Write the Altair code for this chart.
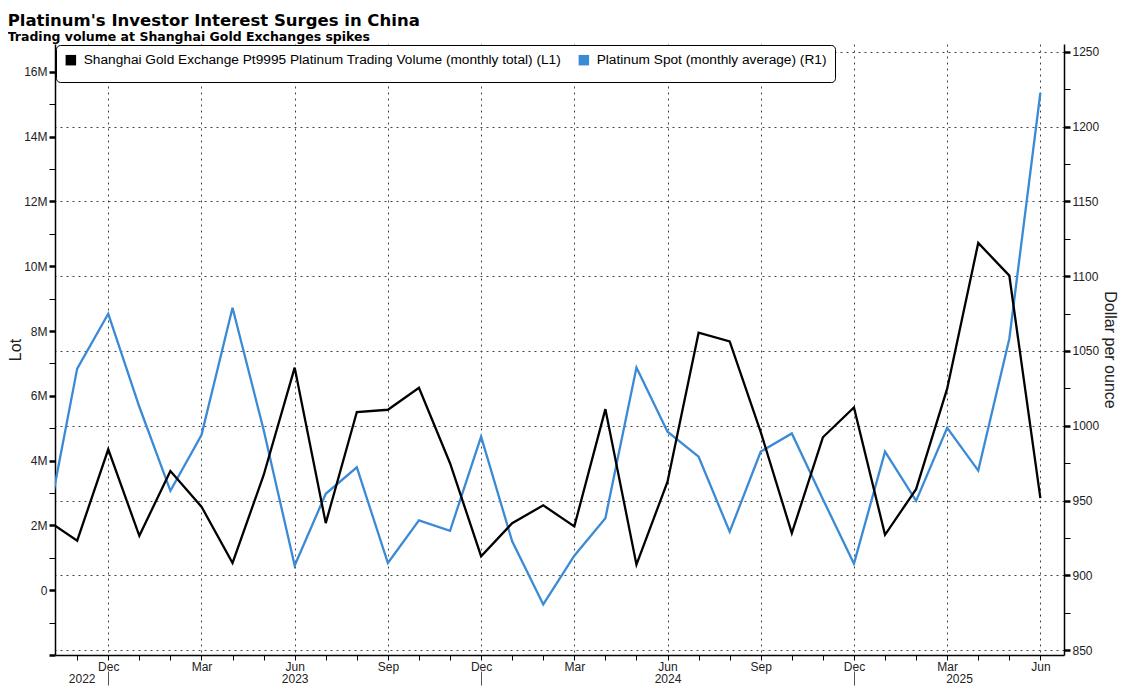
import json
import altair as alt
import pandas as pd

# ---------------- data ----------------
months = [str(p) for p in pd.period_range("2022-10", "2025-06", freq="M")]
volume_m = [2.18, 1.53, 4.35, 1.68, 3.68, 2.58, 0.84, 3.55, 6.87, 2.07, 5.50, 5.57,
            6.25, 3.92, 1.05, 2.07, 2.62, 1.97, 5.59, 0.79, 3.35, 7.95, 7.68, 4.88,
            1.76, 4.72, 5.64, 1.71, 3.12, 6.22, 10.72, 9.71, 2.84]
spot = [930.0, 1038.2, 1074.9, 1012.7, 956.5, 993.8, 1078.9, 997.3, 906.5, 954.5, 972.2, 908.2,
        936.7, 929.8, 992.7, 922.7, 880.5, 913.1, 938.2, 1038.9, 996.0, 979.3, 929.1, 982.7,
        994.9, 950.9, 907.8, 982.7, 949.8, 998.7, 970.0, 1058.2, 1222.7]
series_names = ["Shanghai Gold Exchange Pt9995 Platinum Trading Volume (monthly total) (L1)",
                "Platinum Spot (monthly average) (R1)"]
series_colors = ["#000000", "#3a8ad6"]
years = ["2022", "2023", "2024", "2025"]
left_ticks_m = list(range(-2, 17))
right_ticks = list(range(850, 1251, 25))

df = pd.DataFrame({
    "i": list(range(len(months))),
    "month": months,
    "volume": [v * 1_000_000 for v in volume_m],
    "spot": spot,
    "s_vol": series_names[0],
    "s_spot": series_names[1],
})

x_domain = [0.286, 32.76]
W, H = 1009, 611
FONT = "Liberation Sans"

# month tick labels (every third month, Dec/Mar/Jun/Sep)
month_labels = [pd.Period(m).strftime("%b") if i % 3 == 2 else "" for i, m in enumerate(months)]
month_expr = f"{json.dumps(month_labels)}[datum.value] || ''"

# year separators (at Dec) and year label centres
dec_idx = [i for i, m in enumerate(months) if m.endswith("-12")]
bounds = [x_domain[0]] + dec_idx + [x_domain[1]]
year_pos = [(bounds[k] + bounds[k + 1]) / 2 for k in range(len(years))]
year_expr = f"'{years[-1]}'"
for k in range(len(years) - 2, -1, -1):
    year_expr = f"datum.value < {bounds[k + 1]} ? '{years[k]}' : ({year_expr})"

xscale = alt.Scale(domain=x_domain, nice=False, zero=False)
color_scale = alt.Scale(domain=series_names, range=series_colors)

legend = alt.Legend(
    title=None, orient="none", legendX=1, legendY=1, direction="horizontal",
    symbolType="square", symbolSize=25, symbolStrokeWidth=5.5,
    labelFont=FONT, labelFontSize=13.7, labelColor="#000", labelLimit=700,
    labelOffset=6, columnPadding=8, padding=8,
    strokeColor="#000", fillColor="#fff", cornerRadius=4,
)

month_axis = alt.Axis(
    orient="bottom", values=list(range(1, 33)), labelExpr=month_expr, title=None,
    grid=True, gridColor="#444", gridDash=[2, 4], gridWidth=1,
    gridOpacity={"condition": {"test": "datum.value % 3 == 2", "value": 1}, "value": 0},
    tickSize=5, tickColor="#000", domainColor="#000", domainWidth=1.5,
    labelFont=FONT, labelFontSize=12, labelColor="#222", labelPadding=1,
    labelAngle=0, labelFlush=False, labelOverlap=False,
)
year_axis = alt.Axis(
    orient="bottom", values=year_pos, labelExpr=year_expr, title=None, grid=False,
    ticks=False, tickSize=0, domain=False, offset=18, labelPadding=0,
    labelFont=FONT, labelFontSize=12, labelColor="#222",
    labelAngle=0, labelFlush=False, labelOverlap=False,
)
sep_axis = alt.Axis(
    orient="bottom", values=dec_idx, labels=False, title=None, grid=False, domain=False,
    ticks=True, tickSize=14, tickColor="#555", tickWidth=1, offset=16,
)

left_axis = alt.Axis(
    orient="left", values=[v * 1_000_000 for v in left_ticks_m],
    labelExpr="(datum.value < 0 || datum.value % 2000000 != 0) ? '' : (datum.value == 0 ? '0' : (datum.value / 1000000) + 'M')",
    title="Lot", titleFont=FONT, titleFontSize=16, titleFontWeight="normal", titleColor="#222",
    titlePadding=0, grid=False, tickSize=6, tickColor="#000",
    tickWidth={"condition": {"test": "datum.value % 2000000 == 0", "value": 2.5}, "value": 1},
    domainColor="#000", domainWidth=1.5,
    labelFont=FONT, labelFontSize=12, labelColor="#222", labelPadding=2,
)
right_axis = alt.Axis(
    orient="right", values=right_ticks,
    labelExpr="datum.value % 50 == 0 ? datum.value + '' : ''",
    title="Dollar per ounce", titleFont=FONT, titleFontSize=16, titleFontWeight="normal",
    titleColor="#222", titlePadding=3,
    grid=True, gridColor="#444", gridDash=[2, 4], gridWidth=1,
    gridOpacity={"condition": {"test": "datum.value % 50 == 0", "value": 1}, "value": 0},
    tickSize=6, tickColor="#000",
    tickWidth={"condition": {"test": "datum.value % 50 == 0", "value": 2.5}, "value": 1},
    domainColor="#000", domainWidth=1.5,
    labelFont=FONT, labelFontSize=12, labelColor="#222", labelPadding=2,
)

base = alt.Chart(df)

blue = base.mark_line(strokeWidth=2.3, clip=True).encode(
    x=alt.X("i:Q", scale=xscale, axis=year_axis),
    y=alt.Y("spot:Q", scale=alt.Scale(domain=[846.7, 1255.3], nice=False, zero=False), axis=right_axis),
    color=alt.Color("s_spot:N", scale=color_scale, legend=legend),
)
black = base.mark_line(strokeWidth=2.3, clip=True).encode(
    x=alt.X("i:Q", scale=xscale, axis=month_axis),
    y=alt.Y("volume:Q", scale=alt.Scale(domain=[-2_000_000, 16_860_000], nice=False, zero=False), axis=left_axis),
    color=alt.Color("s_vol:N", scale=color_scale, legend=legend),
)
seps = base.mark_point(opacity=0, clip=True).encode(
    x=alt.X("i:Q", scale=xscale, axis=sep_axis),
)

chart = (
    alt.layer(blue, black, seps)
    .resolve_scale(y="independent")
    .resolve_axis(x="independent", y="independent")
    .properties(
        width=W, height=H,
        autosize=alt.AutoSizeParams(type="none"),
        padding={"left": 47, "top": 36, "right": 54, "bottom": 32},
        background="#ffffff",
        title=alt.TitleParams(
            text="Platinum's Investor Interest Surges in China",
            subtitle="Trading volume at Shanghai Gold Exchanges spikes",
            anchor="start", frame="bounds", orient="top",
            font="DejaVu Sans", fontSize=16.5, fontWeight="bold", color="#000",
            subtitleFont="DejaVu Sans", subtitleFontSize=12.5, subtitleFontWeight="bold",
            subtitleColor="#000", subtitlePadding=1, offset=1,
        ),
    )
    .configure_view(stroke=None)
)

chart.save("out.html", embed_options={"renderer": "svg", "actions": False})
